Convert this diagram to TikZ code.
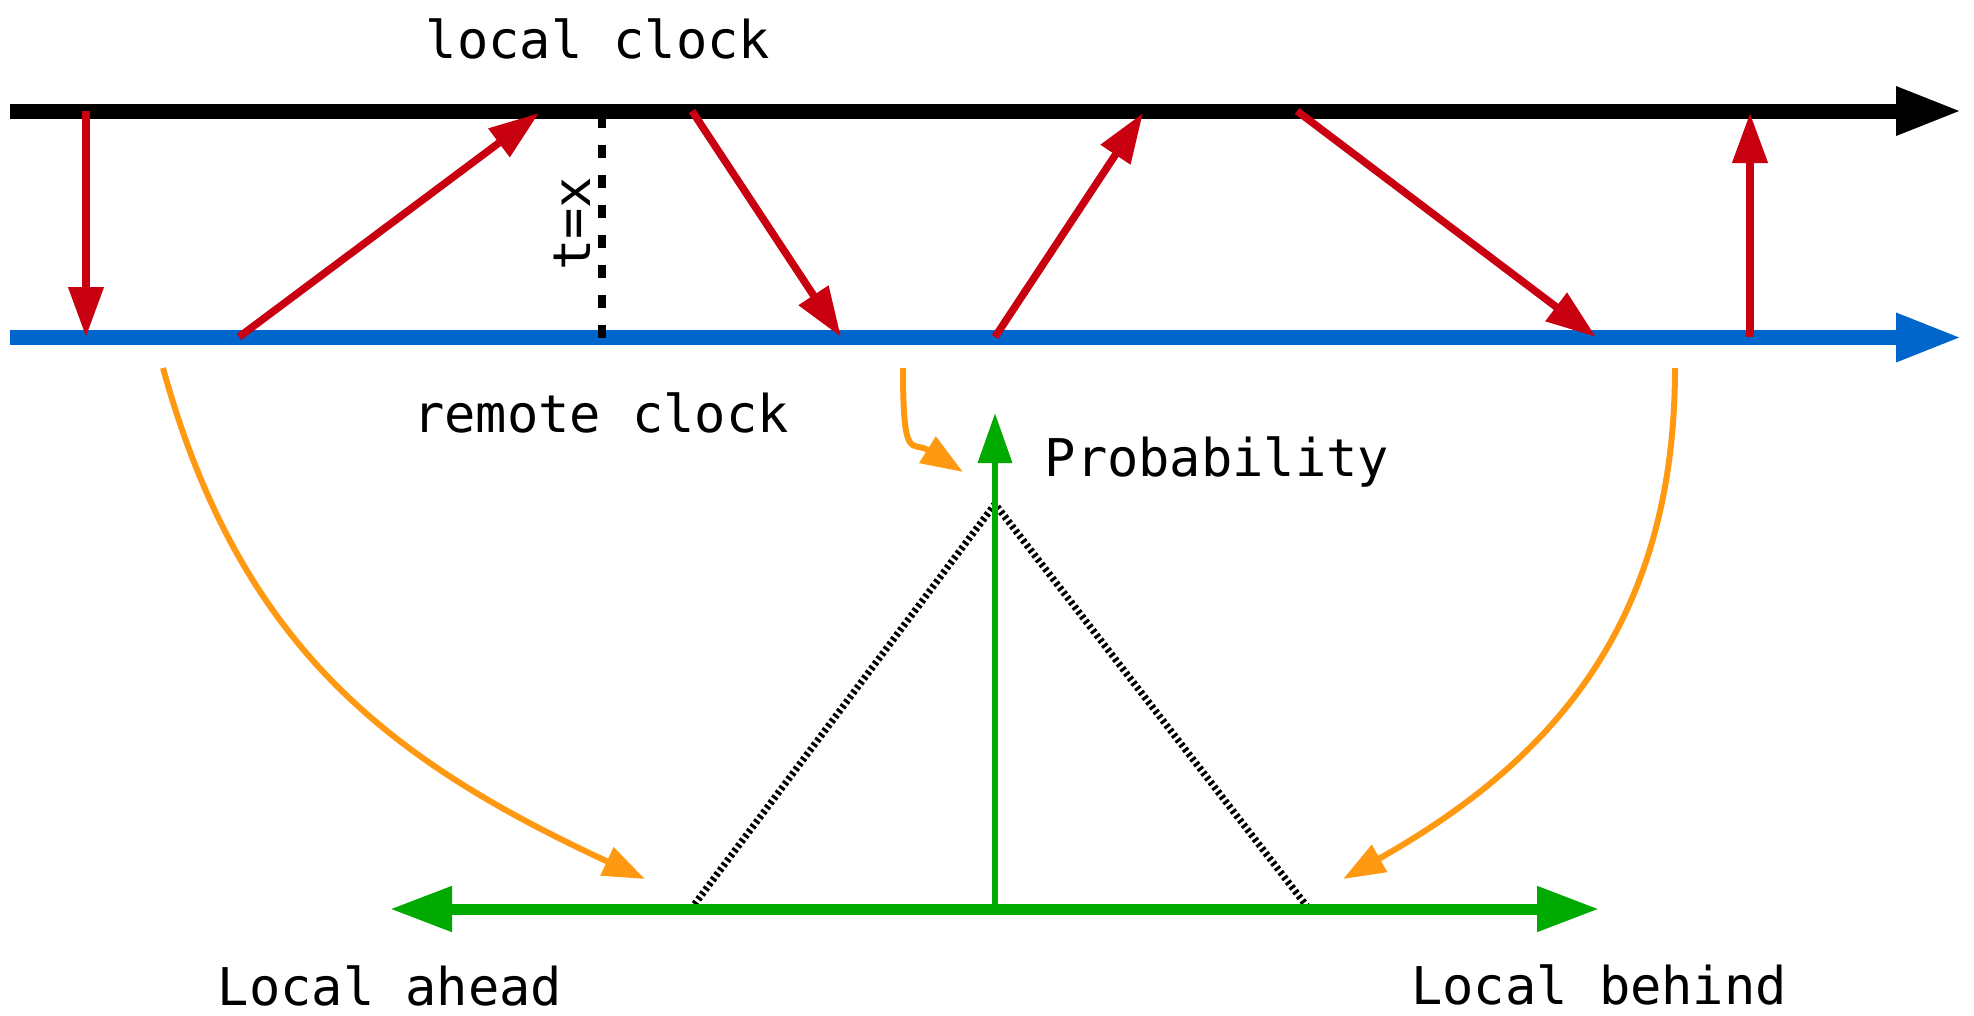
\documentclass[tikz,border=0pt]{standalone}
\usepackage{fontspec}
\setmonofont{DejaVu Sans Mono}
\usepackage{xcolor}
\usetikzlibrary{arrows.meta, positioning}

\definecolor{msgred}{RGB}{200,0,16}
\definecolor{remblue}{RGB}{0,102,204}
\definecolor{distgreen}{RGB}{0,170,0}
\definecolor{maporange}{RGB}{255,153,18}

\begin{document}
\begin{tikzpicture}[
    lbl/.style={font=\ttfamily\fontsize{14.8}{18}\selectfont, inner sep=0pt},
    clockline/.style={line width=1.5mm, -{Triangle[length=6.6mm,width=4.5mm]}},
    msg/.style={draw=msgred, line width=0.75mm, -{Triangle[length=5mm,width=3.4mm]}},
    mapto/.style={draw=maporange, line width=0.6mm, -{Triangle[length=4.2mm,width=3mm]}},
    axis/.style={draw=distgreen, line width=0.65mm, -{Triangle[length=5mm,width=3.3mm]}},
    offset/.style={draw=distgreen, line width=1.1mm, {Triangle[length=6.2mm,width=4.3mm]}-{Triangle[length=6.2mm,width=4.3mm]}}
]
    \useasboundingbox (0,0) rectangle (19.74,10.15);

    % clocks
    \coordinate (loc-s) at (0.10,9.04);
    \coordinate (loc-e) at (19.62,9.04);
    \coordinate (rem-s) at (0.10,6.775);
    \coordinate (rem-e) at (19.62,6.775);
    \draw[clockline, black] (loc-s) -- (loc-e);
    \draw[clockline, remblue] (rem-s) -- (rem-e);

    \node[lbl, anchor=base] (localclk) at (5.98,9.57) {local clock};
    \node[lbl, anchor=base] (remoteclk) at (6.01,5.83) {remote clock};

    % t=x marker
    \coordinate (tx-bot) at (6.02,6.775);
    \coordinate (tx-top) at (6.02,9.00);
    \draw[black, line width=0.75mm, dash pattern=on 1.3mm off 1.7mm] (tx-bot) -- (tx-top);
    \node[lbl, rotate=90, anchor=base] (tx) at (5.90,7.91) {t=x};

    % messages between the clocks
    \coordinate (m1a) at (0.86,9.04);   \coordinate (m1b) at (0.86,6.78);
    \coordinate (m2a) at (2.39,6.78);   \coordinate (m2b) at (5.39,9.02);
    \coordinate (m3a) at (6.92,9.04);   \coordinate (m3b) at (8.41,6.78);
    \coordinate (m4a) at (9.95,6.78);   \coordinate (m4b) at (11.43,9.02);
    \coordinate (m5a) at (12.97,9.04);  \coordinate (m5b) at (15.96,6.78);
    \coordinate (m6a) at (17.50,6.78);  \coordinate (m6b) at (17.50,9.02);
    \foreach \i in {1,...,6} {
        \draw[msg] (m\i a) -- (m\i b);
    }

    % offset distribution
    \coordinate (ahead-end) at (3.90,1.06);
    \coordinate (behind-end) at (15.99,1.06);
    \coordinate (zero) at (9.95,1.06);
    \coordinate (prob-top) at (9.95,6.02);
    \coordinate (peak) at (9.95,5.11);
    \coordinate (foot-l) at (6.91,1.06);
    \coordinate (foot-r) at (13.09,1.06);

    \draw[black, line width=0.7mm, dash pattern=on 0.3mm off 0.3mm] (foot-l) -- (peak) -- (foot-r);
    \draw[offset] (ahead-end) -- (behind-end);
    \draw[axis] (zero) -- (prob-top);

    \node[lbl, anchor=base west] (prob) at (10.44,5.39) {Probability};
    \node[lbl, anchor=base] (ahead) at (3.90,0.10) {Local ahead};
    \node[lbl, anchor=base] (behind) at (15.99,0.11) {Local behind};

    % which messages land where
    \coordinate (o1) at (1.63,6.47);   \coordinate (t1) at (6.45,1.36);
    \coordinate (o2) at (9.03,6.47);   \coordinate (t2) at (9.63,5.43);
    \coordinate (o3) at (16.75,6.47);  \coordinate (t3) at (13.43,1.36);
    \draw[mapto] (o1) .. controls (2.40,3.67) and (3.91,2.54) .. (t1);
    \draw[mapto] (o2) .. controls (9.03,5.50) and (9.12,5.75) .. (t2);
    \draw[mapto] (o3) .. controls (16.75,3.85) and (15.45,2.50) .. (t3);

\end{tikzpicture}
\end{document}
